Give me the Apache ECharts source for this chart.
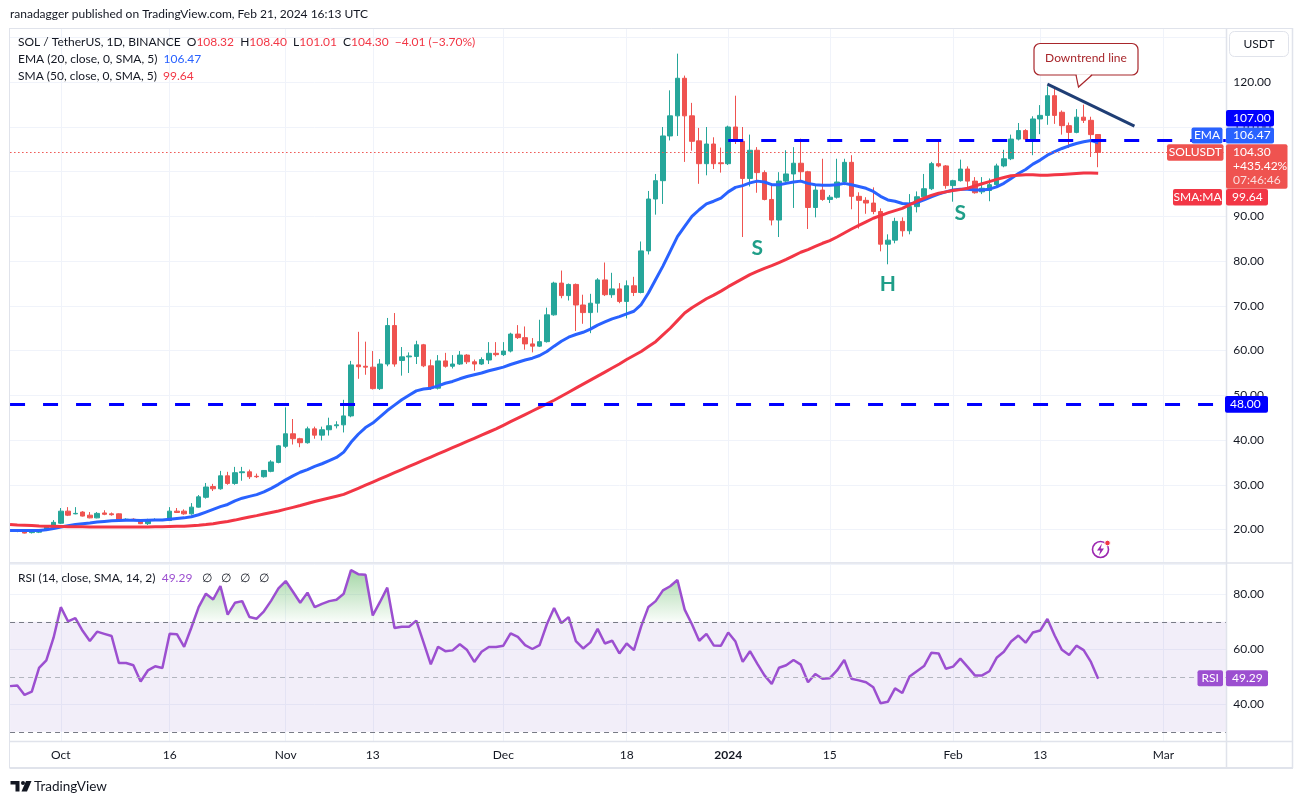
<!DOCTYPE html>
<html><head><meta charset="utf-8">
<script src="https://cdn.jsdelivr.net/npm/echarts@6/dist/echarts.min.js"></script>
<style>html,body{margin:0;padding:0;background:#fff;}#c{width:1303px;height:804px;}</style>
</head><body><div id="c"></div>
<script>
// ---------- categories ----------
const firstDay = '2023-09-24';
const lastDay = '2024-03-10';
function buildDates(a, b) {
  const p = s => { const t = s.split('-').map(Number); return Date.UTC(t[0], t[1] - 1, t[2]); };
  const out = [];
  for (let t = p(a); t <= p(b); t += 86400000) out.push(new Date(t).toISOString().slice(0, 10));
  return out;
}
const dates = buildDates(firstDay, lastDay);

// ---------- candles (from 2023-09-25) ----------
const candleStart = '2023-09-25';
const opens = [
  19.6,19.7,19.3,19.4,20.0,20.5,
  21.4,24.1,23.5,23.9,23.2,22.6,23.7,23.5,23.5,22.1,22.3,22.1,21.3,22.1,22.2,22.0,24.1,24.1,23.5,25.0,27.2,29.6,29.1,32.0,30.3,32.7,32.9,31.9,31.8,33.0,35.0,
  38.6,41.4,40.3,39.4,42.5,41.1,42.3,43.2,43.4,45.4,56.8,56.5,56.3,51.5,57.0,65.6,57.8,58.6,58.7,61.3,56.6,51.6,57.7,56.5,57.0,59.0,57.5,57.0,57.9,59.4,
  59.1,59.9,63.7,62.9,61.5,61.0,62.0,68.0,75.1,72.3,74.8,70.2,68.5,70.6,75.8,72.5,73.8,71.0,74.5,73.0,82.3,93.9,98.0,108.0,112.5,120.9,112.5,106.9,101.8,106.2,102.0,
  101.8,110.0,106.8,98.5,104.8,99.8,93.8,89.2,97.9,99.5,101.9,100.0,92.0,95.9,93.8,94.3,97.7,102.1,94.5,93.6,93.0,91.1,83.8,84.7,88.9,86.8,92.2,94.4,96.2,101.8,101.3,
  96.9,98.0,100.6,97.9,95.5,95.8,97.1,101.3,102.9,107.3,109.2,107.3,111.8,112.6,117.0,113.3,110.3,108.8,112.2,111.5,108.32
];
const closes = [
  19.8,19.2,19.5,20.0,20.6,21.6,
  24.1,23.2,23.6,23.0,22.6,23.6,23.4,23.3,22.1,22.3,22.1,21.3,22.1,22.2,22.0,24.1,23.8,23.5,25.0,27.3,29.5,29.1,32.0,30.3,32.7,32.9,31.8,31.8,33.2,35.1,38.7,
  41.4,40.3,39.4,42.5,41.1,42.3,43.2,43.4,45.4,56.8,56.4,56.3,51.5,57.0,65.6,57.0,58.6,58.8,61.3,56.6,51.6,57.7,56.5,57.0,59.0,57.5,57.0,58.0,59.4,59.1,
  59.9,63.7,62.9,61.5,61.0,62.0,68.0,75.1,72.3,74.8,70.2,68.5,70.6,75.8,72.5,73.8,71.0,74.5,73.0,82.3,93.9,98.0,108.0,112.5,120.9,112.5,106.8,101.8,106.2,101.8,101.8,
  110.0,106.8,98.5,104.8,99.8,93.8,89.2,97.9,99.5,101.9,100.0,92.0,95.9,93.8,94.3,97.7,102.1,94.5,93.6,93.0,91.1,83.8,84.7,88.9,86.8,92.2,94.4,96.2,101.8,101.3,96.9,
  98.0,100.6,97.9,95.3,96.3,97.1,101.3,102.9,107.3,109.2,107.3,111.8,112.6,117.0,112.6,110.3,108.8,112.2,111.5,108.3,104.30
];
const lows = [
  19.4,19.1,19.1,19.2,19.9,20.4,
  21.2,23.0,23.4,22.9,22.5,22.5,23.2,23.1,21.9,21.9,21.9,21.2,21.0,22.0,21.9,21.9,23.7,23.3,23.3,24.9,26.9,28.6,28.9,30.0,30.0,30.9,31.3,31.5,31.6,32.8,34.8,
  38.2,39.0,38.4,39.2,40.3,39.9,41.0,42.6,41.7,45.1,53.7,54.6,51.3,51.2,56.5,56.4,54.4,55.0,57.0,56.3,51.2,51.3,56.2,56.0,56.8,57.0,55.5,56.8,57.0,58.7,
  58.8,59.6,62.6,60.2,59.6,60.8,61.8,67.8,71.7,71.2,64.4,66.0,63.9,68.5,72.2,71.8,70.6,67.2,72.2,72.8,81.5,90.4,92.8,107.0,108.0,102.2,104.7,97.3,99.2,100.6,99.8,
  101.5,106.2,85.4,96.7,95.3,93.6,88.0,85.4,97.6,91.9,97.8,87.2,89.8,93.5,93.0,94.0,97.0,91.6,87.3,90.6,90.5,82.2,79.3,84.0,85.5,86.0,90.9,94.0,95.9,101.0,96.2,
  93.3,97.8,96.5,95.1,95.0,93.4,96.8,101.0,102.6,107.0,107.0,103.7,108.4,110.5,110.7,108.3,105.3,108.6,110.9,103.3,101.01
];
const highs = [
  20.1,19.8,19.9,20.1,20.7,22.1,
  24.8,25.0,25.0,24.1,23.9,23.9,24.3,23.8,23.6,22.5,22.5,22.2,22.4,22.5,22.3,25.0,24.8,24.5,25.9,27.7,30.4,30.2,33.1,32.9,34.0,34.0,33.4,32.5,33.3,35.5,38.9,
  47.3,44.7,40.5,43.0,43.0,43.0,45.0,44.2,49.0,57.7,64.2,62.0,59.9,58.1,67.3,68.4,60.8,59.6,62.2,61.5,58.0,59.0,59.5,59.0,59.9,59.2,58.0,58.5,61.9,61.9,
  61.9,64.0,65.7,65.4,62.8,66.9,69.6,75.4,77.9,75.0,75.0,72.5,72.7,76.2,79.7,77.4,75.1,75.7,76.5,84.4,95.7,99.5,110.0,118.2,126.4,121.5,115.4,109.8,110.0,107.7,105.4,
  110.3,117.0,110.0,108.3,105.5,100.3,97.1,99.9,104.8,105.5,107.4,100.2,97.2,102.9,94.8,102.9,102.9,103.7,95.4,94.3,96.5,91.8,86.0,89.7,89.8,95.0,95.6,99.5,102.2,106.9,101.5,
  98.2,102.7,101.2,98.8,98.8,98.5,101.8,104.9,108.3,110.9,109.5,112.4,114.9,119.1,118.6,113.7,111.0,114.0,115.0,112.3,108.40
];

// ---------- indicators (from 2023-09-24) ----------
const ema20 = [
  19.8,19.8,19.8,19.75,19.8,19.95,20.2,
  20.55,20.85,21.1,21.3,21.45,21.65,21.8,21.95,22.0,22.05,22.05,22.0,22.05,22.1,22.1,22.3,22.45,22.6,22.85,23.3,23.9,24.5,25.1,25.6,26.4,27.0,27.4,27.8,28.4,29.2,30.1,
  31.1,32.0,32.8,33.4,34.1,34.7,35.4,36.1,37.3,39.5,41.3,42.8,43.8,45.2,46.6,47.8,49.0,50.0,51.0,51.4,51.6,52.1,52.7,53.1,53.7,54.2,54.6,55.0,55.5,55.9,
  56.3,56.9,57.4,57.9,58.3,58.9,59.8,61.0,62.1,63.0,63.6,64.1,64.8,65.7,66.4,67.1,67.6,68.2,68.8,70.3,72.9,75.9,78.9,82.2,85.5,87.8,90.0,91.5,92.8,93.4,94.1,
  95.5,96.5,96.9,97.5,97.9,97.7,97.1,97.1,97.4,97.7,97.9,97.4,97.1,97.0,97.0,97.1,97.4,97.1,96.7,96.3,95.6,94.5,93.7,93.4,92.9,92.8,93.1,93.7,94.4,95.0,95.5,
  95.9,96.1,96.1,95.9,95.9,96.1,96.6,97.4,98.5,99.6,100.5,101.7,102.6,103.7,104.5,105.2,105.8,106.3,106.7,107.0,106.47
];
const sma50 = [
  21.1,21.0,20.95,20.9,20.8,20.75,20.7,
  20.65,20.6,20.6,20.6,20.55,20.55,20.55,20.55,20.55,20.55,20.55,20.55,20.55,20.6,20.6,20.65,20.7,20.75,20.85,20.95,21.1,21.3,21.55,21.8,22.1,22.45,22.8,23.1,23.45,23.8,24.15,
  24.55,24.95,25.35,25.8,26.25,26.65,27.05,27.45,27.85,28.5,29.2,29.9,30.6,31.3,32.0,32.7,33.4,34.1,34.8,35.5,36.2,36.9,37.6,38.3,39.0,39.7,40.4,41.1,41.8,42.5,
  43.3,44.1,44.9,45.7,46.5,47.3,48.1,48.9,49.8,50.7,51.6,52.5,53.4,54.3,55.2,56.1,57.0,58.0,58.9,59.8,60.9,62.0,63.5,65.0,66.7,68.4,69.6,70.6,71.6,72.4,73.3,
  74.3,75.2,76.1,77.0,77.7,78.4,79.0,79.7,80.4,81.2,82.0,82.6,83.3,84.0,84.6,85.4,86.3,87.2,88.0,88.8,89.6,90.2,90.8,91.3,91.8,92.6,93.4,94.1,94.7,95.2,95.5,
  95.8,96.0,96.3,96.8,97.3,97.8,98.3,98.7,99.1,99.2,99.3,99.3,99.2,99.2,99.3,99.4,99.5,99.6,99.7,99.7,99.64
];
const rsi14 = [
  46.6,46.8,43.4,44.6,53.2,56.0,64.2,
  75.3,70.1,71.3,66.7,63.0,66.4,65.6,64.8,55.0,55.0,54.2,48.3,52.3,53.8,53.2,65.6,65.5,60.9,67.9,75.3,80.2,78.1,83.0,72.6,76.9,77.5,71.7,71.1,73.8,77.7,82.1,
  84.8,80.9,76.9,80.6,75.3,76.5,77.5,78.0,80.2,88.8,87.3,87.1,72.3,77.2,82.4,67.7,68.2,68.2,70.4,62.5,54.5,60.9,59.3,59.6,61.8,59.7,55.4,59.1,60.8,60.8,
  61.3,65.8,64.5,61.5,60.1,61.5,69.1,75.0,69.5,71.7,63.0,60.3,62.5,67.4,62.1,63.1,58.5,62.1,59.7,68.3,75.4,77.5,81.4,82.9,85.2,74.4,69.1,63.1,65.6,61.4,61.3,
  66.1,62.8,55.4,59.3,54.8,50.5,47.4,53.3,54.2,56.1,54.4,48.0,51.0,49.3,49.5,52.3,56.1,49.3,48.7,48.0,46.2,40.4,40.9,45.8,44.1,50.1,52.0,53.9,58.7,58.5,52.9,
  53.7,56.6,53.6,50.5,50.5,52.0,56.9,59.1,62.8,65.0,62.4,66.1,66.8,71.0,65.0,59.8,57.9,61.3,59.7,55.4,49.29
];

// ---------- ticks / levels / annotations ----------
const tickDates = ['2023-10-01','2023-10-16','2023-11-01','2023-11-13','2023-12-01','2023-12-18','2024-01-01','2024-01-15','2024-02-01','2024-02-13','2024-03-01'];
const tickTexts = ['Oct','16','Nov','13','Dec','18','2024','15','Feb','13','Mar'];
const supportLevel = 48;
const necklineLevel = 107;
const necklineFrom = '2024-01-01';
const lastClose = 104.30;
const trendFrom = ['2024-02-14', 119.6];
const trendTo = ['2024-02-26', 110.2];
const patternDates = ['2024-01-05', '2024-01-23', '2024-02-02'];
const patternPrices = [83.0, 74.9, 90.8];
const patternTexts = ['S', 'H', 'S'];
const rsiUpper = 70, rsiMid = 50, rsiLower = 30;

// ---------- build ----------
const FONT = 'Lato, "Noto Sans", sans-serif';
const tickSet = new Set(tickDates);
const tickMap = {}; tickDates.forEach((d, i) => tickMap[d] = tickTexts[i]);
const cOff = dates.indexOf(candleStart);
const candleData = dates.map((d, i) => { const k = i - cOff; return (k >= 0 && k < opens.length) ? [opens[k], closes[k], lows[k], highs[k]] : '-'; });
const pad = arr => dates.map((d, i) => i < arr.length ? arr[i] : '-');
const rsiData = pad(rsi14);
const obBase = rsiData.map(v => v === '-' ? '-' : rsiUpper);
const obFill = rsiData.map(v => v === '-' ? '-' : Math.max(v, rsiUpper) - rsiUpper);

const GRID_LEFT = 10.05, GRID_W = 1218.7;
const tickFn = (i, v) => tickSet.has(v);
const gridColor = '#f0f3fa';

function txt(x, y, text, fill, opt) {
  opt = opt || {};
  return { type: 'text', x: x, y: y, z: opt.z || 120, silent: true,
    style: { text: text, fill: fill, font: (opt.weight || 'normal') + ' ' + (opt.size || 12) + 'px ' + FONT,
      align: opt.align || 'left', textAlign: opt.align || 'left', verticalAlign: 'middle', textVerticalAlign: 'middle' } };
}
function box(x, y, w, h, fill, r) {
  return { type: 'rect', z: 115, silent: true, shape: { x: x, y: y, width: w, height: h, r: r || 0 }, style: { fill: fill } };
}
function ln(x1, y1, x2, y2, color, w) {
  return { type: 'line', z: 112, silent: true, shape: { x1: x1, y1: y1, x2: x2, y2: y2 }, style: { stroke: color, lineWidth: w } };
}
function rich(x, y, text, richDef) {
  return { type: 'text', x: x, y: y, z: 120, silent: true, style: { text: text, font: '12px ' + FONT,
    verticalAlign: 'middle', textVerticalAlign: 'middle', rich: richDef } };
}
const rs = c => ({ fill: c, color: c, fontSize: 12, fontFamily: FONT });

const G = [];
G.push({ type: 'rect', z: 110, silent: true, shape: { x: 1227, y: 28, width: 5, height: 713 }, style: { fill: '#fff' } });
G.push(ln(9.5, 28, 9.5, 768, '#e0e3eb', 1));
G.push(ln(9.5, 28.5, 1293, 28.5, '#e0e3eb', 1));
G.push(ln(9.5, 768, 1293, 768, '#e0e3eb', 2));
G.push(ln(1292.5, 28, 1292.5, 768, '#e0e3eb', 1.5));
G.push(ln(1226.5, 28, 1226.5, 768, '#e0e3eb', 1.5));
G.push(ln(9.5, 563, 1293, 563, '#e0e3eb', 1.5));
G.push(ln(9.5, 741.5, 1293, 741.5, '#e0e3eb', 1.5));

// header
G.push(txt(10, 14, 'ranadagger published on TradingView.com, Feb 21, 2024 16:13 UTC', '#131722'));
G.push(rich(18, 42, '{d|SOL / TetherUS, 1D, BINANCE  O}{r|108.32}{d|  H}{r|108.40}{d|  L}{r|101.01}{d|  C}{r|104.30}{r|  \u22124.01 (\u22123.70%)}',
  { d: rs('#131722'), r: rs('#f23645') }));
G.push(rich(18, 59, '{d|EMA (20, close, 0, SMA, 5)  }{b|106.47}', { d: rs('#131722'), b: rs('#2962ff') }));
G.push(rich(18, 76, '{d|SMA (50, close, 0, SMA, 5)  }{r|99.64}', { d: rs('#131722'), r: rs('#f23645') }));
G.push(rich(18, 578, '{d|RSI (14, close, SMA, 14, 2)  }{p|49.29}{d|   \u2205   \u2205   \u2205   \u2205}', { d: rs('#131722'), p: rs('#9c4fd0') }));

// right axis tags
G.push({ type: 'rect', z: 115, silent: true, shape: { x: 1229.5, y: 31.5, width: 59, height: 25, r: 5 }, style: { fill: '#fff', stroke: '#e0e3eb', lineWidth: 1 } });
G.push(txt(1259, 44.5, 'USDT', '#131722', { align: 'center' }));
G.push(box(1226, 110, 48, 16.5, '#0000ff', 2)); G.push(txt(1233, 118.5, '107.00', '#fff'));
G.push(box(1191.5, 127.5, 31, 16, '#2962ff', 2)); G.push(txt(1207, 135.5, 'EMA', '#fff', { align: 'center' }));
G.push(box(1226, 127.5, 48, 16, '#2962ff', 2)); G.push(txt(1233, 135.5, '106.47', '#fff'));
G.push(box(1167, 144.3, 56.5, 16.5, '#ef5350', 2)); G.push(txt(1195.3, 152.6, 'SOLUSDT', '#fff', { align: 'center' }));
G.push(box(1226, 144.3, 61.5, 44.5, '#ef5350', 2));
G.push(txt(1233, 152.6, '104.30', '#fff')); G.push(txt(1233, 166.6, '+435.42%', '#fff')); G.push(txt(1233, 180.6, '07:46:46', 'rgba(255,255,255,0.8)'));
G.push(box(1173, 189, 49, 16.5, '#f23645', 2)); G.push(txt(1197.5, 197.3, 'SMA:MA', '#fff', { align: 'center' }));
G.push(box(1226, 189, 42, 16.5, '#f23645', 2)); G.push(txt(1232, 197.3, '99.64', '#fff'));
G.push(box(1225, 396, 43, 16.7, '#0000ff', 2)); G.push(txt(1230, 404.4, '48.00', '#fff'));
G.push(box(1197.5, 670.3, 25.5, 16, '#9c4fd0', 2)); G.push(txt(1210.2, 678.3, 'RSI', '#fff', { align: 'center' }));
G.push(box(1226, 670.3, 42, 16, '#9c4fd0', 2)); G.push(txt(1232, 678.3, '49.29', '#fff'));

// callout "Downtrend line"
G.push({ type: 'rect', z: 117, silent: true, shape: { x: 1034, y: 43.5, width: 104, height: 31.5, r: 6 }, style: { fill: '#fff', stroke: '#a8262b', lineWidth: 1.2 } });
G.push({ type: 'polygon', z: 118, silent: true, shape: { points: [[1076.6, 74.2], [1078.5, 86.5], [1091.5, 74.2]] }, style: { fill: '#fff' } });
G.push({ type: 'polyline', z: 118, silent: true, shape: { points: [[1076, 75], [1078.5, 87], [1092, 75]] }, style: { fill: null, stroke: '#a8262b', lineWidth: 1.2 } });
G.push(txt(1086, 58.5, 'Downtrend line', '#a8262b', { align: 'center', z: 119 }));

// lightning icon
G.push({ type: 'circle', z: 115, silent: true, shape: { cx: 1100.5, cy: 549.5, r: 8 }, style: { fill: '#fff', stroke: '#9c27b0', lineWidth: 1.6 } });
G.push({ type: 'polygon', z: 116, silent: true, shape: { points: [[1102, 543.5], [1097, 550.5], [1100.3, 550.5], [1099, 555.5], [1104, 548.5], [1100.7, 548.5]] }, style: { fill: '#9c27b0' } });
G.push({ type: 'circle', z: 117, silent: true, shape: { cx: 1107.5, cy: 543, r: 2.8 }, style: { fill: '#f23645', stroke: '#fff', lineWidth: 1 } });

// TradingView logo
G.push({ type: 'polygon', z: 115, silent: true, shape: { points: [[10.5, 781], [19.5, 781], [19.5, 791.5], [15.5, 791.5], [15.5, 784.5], [10.5, 784.5]] }, style: { fill: '#131722' } });
G.push({ type: 'circle', z: 115, silent: true, shape: { cx: 23, cy: 783, r: 2 }, style: { fill: '#131722' } });
G.push({ type: 'polygon', z: 115, silent: true, shape: { points: [[26, 781], [31.5, 781], [27, 791.5], [21.5, 791.5]] }, style: { fill: '#131722' } });
G.push(txt(34, 786.5, 'TradingView', '#131722', { size: 13.5 }));

const option = {
  animation: false,
  backgroundColor: '#ffffff',
  textStyle: { fontFamily: FONT },
  grid: [
    { left: GRID_LEFT, top: 28, width: GRID_W, height: 534, containLabel: false },
    { left: GRID_LEFT, top: 564, width: GRID_W, height: 177, containLabel: false }
  ],
  xAxis: [
    { type: 'category', gridIndex: 0, data: dates, boundaryGap: false,
      axisLine: { show: false }, axisTick: { show: false }, axisLabel: { show: false },
      splitLine: { show: true, interval: tickFn, lineStyle: { color: gridColor, width: 1 } } },
    { type: 'category', gridIndex: 1, data: dates, boundaryGap: false,
      axisLine: { show: false }, axisTick: { show: false },
      axisLabel: { show: true, interval: tickFn, margin: 8, color: '#131722', fontSize: 12, fontFamily: FONT,
        formatter: v => (tickMap[v] === '2024' ? '{b|2024}' : (tickMap[v] || '')),
        rich: { b: { fontWeight: 'bold', fontSize: 12, color: '#131722', fontFamily: FONT } } },
      splitLine: { show: true, interval: tickFn, lineStyle: { color: gridColor, width: 1 } } }
  ],
  yAxis: [
    { type: 'value', gridIndex: 0, position: 'right', min: 12.73, max: 132.14, splitNumber: 12, minInterval: 10, maxInterval: 10,
      axisLine: { show: false }, axisTick: { show: false },
      axisLabel: { margin: 4.5, color: '#131722', fontSize: 12, fontFamily: FONT,
        formatter: v => (Math.abs(v / 10 - Math.round(v / 10)) < 1e-6 ? v.toFixed(2) : '') },
      splitLine: { lineStyle: { color: gridColor, width: 1 } } },
    { type: 'value', gridIndex: 1, position: 'right', min: 26.65, max: 91.0, splitNumber: 3, minInterval: 20, maxInterval: 20,
      axisLine: { show: false }, axisTick: { show: false },
      axisLabel: { margin: 4.5, color: '#131722', fontSize: 12, fontFamily: FONT,
        formatter: v => (Math.abs(v / 20 - Math.round(v / 20)) < 1e-6 ? v.toFixed(2) : '') },
      splitLine: { lineStyle: { color: gridColor, width: 1 } } }
  ],
  series: [
    { name: 'SOLUSDT', type: 'candlestick', xAxisIndex: 0, yAxisIndex: 0, data: candleData, barWidth: 5, z: 3,
      itemStyle: { color: '#26a69a', color0: '#ef5350', borderColor: '#26a69a', borderColor0: '#ef5350', borderWidth: 1 },
      markLine: { silent: true, symbol: 'none', label: { show: false },
        data: [
          { yAxis: lastClose, lineStyle: { color: '#ef5350', type: [1.5, 2.5], width: 1 } },
          { yAxis: supportLevel, lineStyle: { color: '#0000ff', type: [15, 18], width: 3 } },
          [ { coord: [necklineFrom, necklineLevel], lineStyle: { color: '#0000ff', type: [15, 18], width: 3 } },
            { coord: [dates[dates.length - 1], necklineLevel] } ]
        ] },
      markPoint: { silent: true, symbol: 'rect', symbolSize: [1, 1], itemStyle: { color: 'rgba(0,0,0,0)' },
        label: { show: true, position: 'inside', formatter: p => p.name, color: '#1f9e88', fontSize: 21, fontWeight: 'bold', fontFamily: FONT },
        data: patternDates.map((d, i) => ({ name: patternTexts[i], coord: [d, patternPrices[i]] })) } },
    { name: 'EMA', type: 'line', xAxisIndex: 0, yAxisIndex: 0, data: pad(ema20), symbol: 'none', z: 4,
      lineStyle: { color: '#2962ff', width: 3 } },
    { name: 'SMA', type: 'line', xAxisIndex: 0, yAxisIndex: 0, data: pad(sma50), symbol: 'none', z: 4,
      lineStyle: { color: '#f23645', width: 3 } },
    { name: 'Trend', type: 'line', xAxisIndex: 0, yAxisIndex: 0, data: [trendFrom, trendTo], symbol: 'none', z: 5,
      lineStyle: { color: '#1f3e75', width: 3 } },
    { name: 'obBase', type: 'line', xAxisIndex: 1, yAxisIndex: 1, data: obBase, stack: 'ob', symbol: 'none', z: 1,
      lineStyle: { width: 0, opacity: 0 },
      markArea: { silent: true, itemStyle: { color: 'rgba(126,87,194,0.1)' }, data: [[{ yAxis: rsiLower }, { yAxis: rsiUpper }]] },
      markLine: { silent: true, symbol: 'none', label: { show: false },
        data: [
          { yAxis: rsiUpper, lineStyle: { color: '#787b86', type: [5, 4], width: 1 } },
          { yAxis: rsiMid, lineStyle: { color: '#b2b5be', type: [5, 4], width: 1 } },
          { yAxis: rsiLower, lineStyle: { color: '#787b86', type: [5, 4], width: 1 } }
        ] } },
    { name: 'obFill', type: 'line', xAxisIndex: 1, yAxisIndex: 1, data: obFill, stack: 'ob', symbol: 'none', z: 2,
      lineStyle: { width: 0, opacity: 0 },
      areaStyle: { opacity: 1, color: {
        type: 'linear', x: 0, y: 0, x2: 0, y2: 1,
        colorStops: [{ offset: 0, color: 'rgba(76,175,80,0.5)' }, { offset: 1, color: 'rgba(76,175,80,0.03)' }] } } },
    { name: 'RSI', type: 'line', xAxisIndex: 1, yAxisIndex: 1, data: rsiData, symbol: 'none', z: 4,
      lineStyle: { color: '#9c4fd0', width: 2.5 } }
  ],
  graphic: { elements: G }
};

const chart = echarts.init(document.getElementById('c'), null, { renderer: 'canvas', width: 1303, height: 804 });
chart.setOption(option);
</script>
</body></html>
